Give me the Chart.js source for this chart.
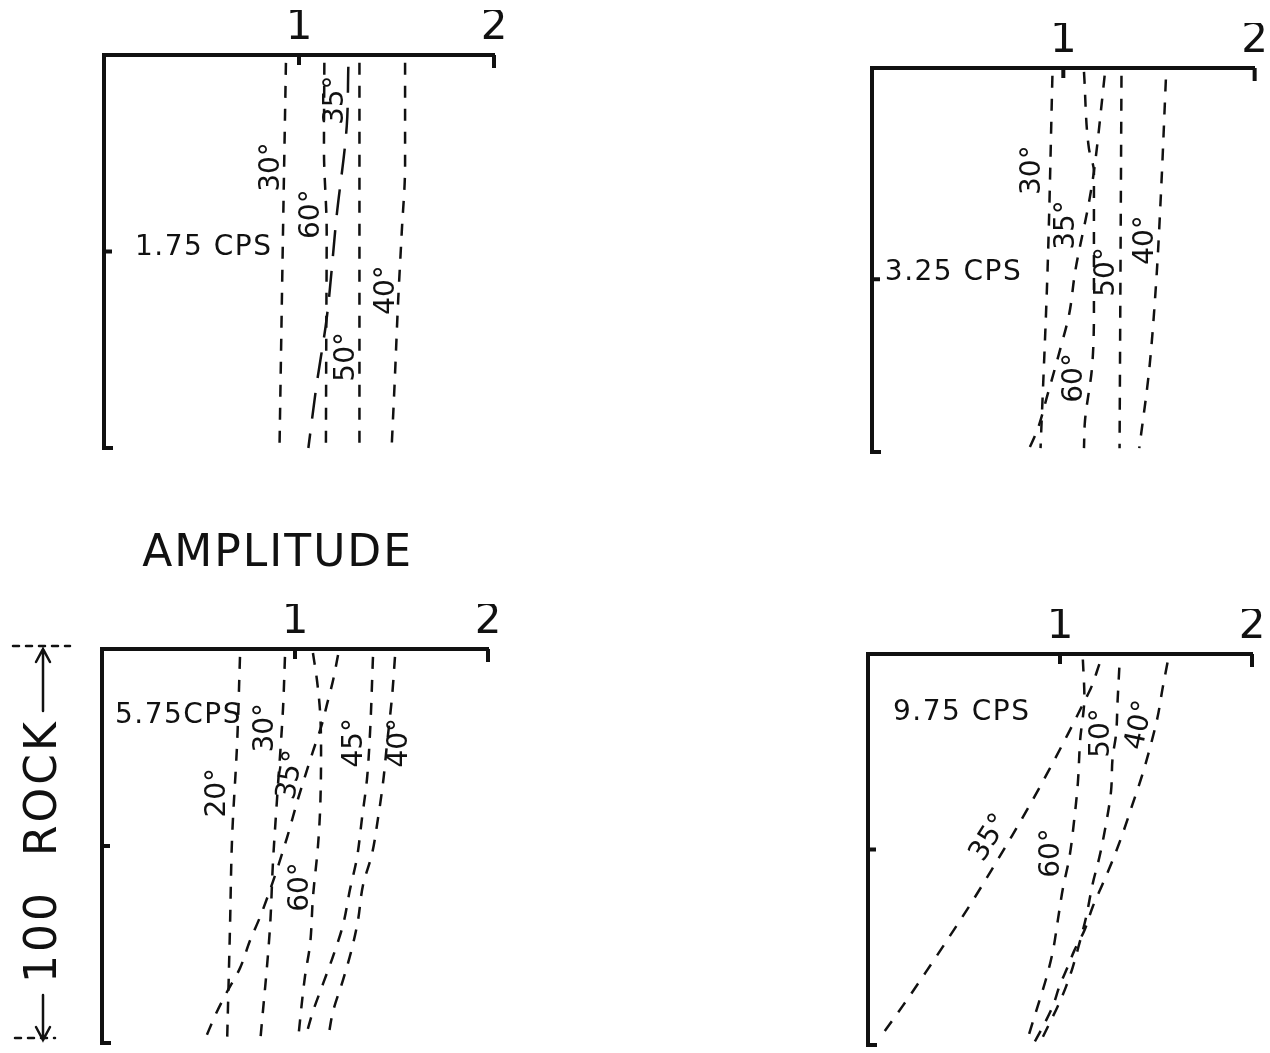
<!DOCTYPE html>
<html lang="en">
<head>
<meta charset="utf-8">
<title>Amplitude versus depth in rock</title>
<script src="https://cdn.jsdelivr.net/npm/chart.js@4.4.1/dist/chart.umd.min.js"></script>
<style>
  html, body { margin: 0; padding: 0; background: #fff; }
  body { position: relative; width: 1270px; height: 1053px; overflow: hidden; }
  canvas { position: absolute; }
</style>
</head>
<body>
<canvas id="c175"></canvas>
<canvas id="c325"></canvas>
<canvas id="c575"></canvas>
<canvas id="c975"></canvas>
<script>
// ---- data -------------------------------------------------------------
// Amplitude ticks along the top of every panel
const amplitudeTicks = [1, 2];
// Frequency of each panel
const frequencies = ['1.75 CPS', '3.25 CPS', '5.75CPS', '9.75 CPS'];
// Unlabelled depth tick on the left axis of each panel
const depthMidTicks = [50, 55, 50, 50];
// Total rock thickness spanned by the depth axis
const rockThickness = '100';

// Curves: [amplitude, depth] pairs, depth counted down from the surface (0-100)
// 1.75 cps
const f175_30 = [[0.933, 2], [0.918, 45], [0.900, 100]];
const f175_60 = [[1.130, 2], [1.128, 24], [1.142, 45], [1.140, 70], [1.138, 100]];
const f175_35 = [[1.253, 3], [1.245, 18], [1.193, 41], [1.142, 67], [1.090, 84], [1.048, 100]];
const f175_50 = [[1.310, 2], [1.310, 100]];
const f175_40 = [[1.544, 2], [1.544, 28], [1.527, 45], [1.509, 62], [1.490, 84], [1.475, 100]];

// 3.25 cps
const f325_30 = [[0.943, 2], [0.918, 52], [0.881, 99]];
const f325_60 = [[1.108, 1], [1.134, 21], [1.160, 27], [1.160, 64], [1.150, 78], [1.113, 92], [1.108, 99]];
const f325_35 = [[1.216, 2], [1.175, 21], [1.160, 27], [1.134, 35], [1.062, 53], [1.031, 64], [0.985, 73], [0.918, 85], [0.866, 94], [0.814, 100]];
const f325_50 = [[1.304, 2], [1.294, 99]];
const f325_40 = [[1.536, 3], [1.510, 33], [1.485, 56], [1.448, 79], [1.397, 99]];

// 5.75 cps
const f575_20 = [[0.715, 2], [0.700, 24], [0.674, 48], [0.663, 71], [0.648, 100]];
const f575_30 = [[0.948, 2], [0.938, 15], [0.907, 38], [0.886, 54], [0.870, 71], [0.819, 100]];
const f575_60 = [[1.093, 1], [1.114, 8], [1.130, 16], [1.135, 26], [1.130, 41], [1.119, 50], [1.093, 63], [1.078, 75], [1.052, 83], [1.016, 99]];
const f575_35 = [[1.223, 1.5], [1.197, 8], [1.166, 14], [1.140, 19], [1.093, 26], [1.016, 38], [0.958, 48], [0.886, 59], [0.819, 68], [0.767, 74], [0.715, 81], [0.648, 87], [0.596, 92], [0.534, 99]];
const f575_45 = [[1.404, 2], [1.389, 21], [1.373, 33], [1.347, 43], [1.321, 53], [1.285, 61], [1.249, 70], [1.197, 78], [1.145, 85], [1.093, 92], [1.052, 99]];
const f575_40 = [[1.518, 2], [1.503, 12], [1.477, 24], [1.456, 34], [1.430, 43], [1.399, 52], [1.352, 60], [1.326, 69], [1.295, 76], [1.249, 84], [1.197, 92], [1.171, 99]];

// 9.75 cps
const f975_60 = [[1.119, 1.4], [1.127, 11], [1.105, 22], [1.093, 33], [1.075, 42], [1.049, 52], [1.015, 60], [0.989, 68], [0.963, 76], [0.928, 83], [0.894, 88.5], [0.859, 94], [0.824, 99.6]];
const f975_35 = [[1.205, 2.6], [1.162, 8.6], [1.130, 11.8], [1.041, 20.5], [0.948, 29.2], [0.851, 37.9], [0.750, 46.5], [0.644, 55.2], [0.535, 63.9], [0.420, 72.6], [0.302, 81.3], [0.181, 90], [0.054, 98.7]];
const f975_50 = [[1.309, 3.5], [1.300, 12], [1.292, 20.5], [1.274, 26.5], [1.266, 35], [1.240, 43.4], [1.205, 52], [1.170, 58.8], [1.136, 67.3], [1.101, 74], [1.067, 80], [1.032, 85], [0.989, 90], [0.945, 94.5], [0.894, 99.6]];
const f975_40 = [[1.560, 2.2], [1.535, 8.6], [1.508, 16.2], [1.474, 23], [1.430, 30.7], [1.378, 38.4], [1.326, 46], [1.274, 52.8], [1.222, 58.8], [1.170, 64.7], [1.127, 70.7], [1.075, 75.8], [1.040, 80], [0.997, 85], [0.963, 90], [0.911, 95.3], [0.859, 100]];

// ---- layout -----------------------------------------------------------
const INK = '#111';
const FONT = '"DejaVu Sans", "Liberation Sans", sans-serif';
const AXIS_H = 45;
const SHORT_DASH = [12, 11];
const LONG_DASH = [26, 15];

// canvas frame and plot area in page pixels
const frames = [
  { x: 0,   y: 0,   w: 635, h: 520, area: { l: 104, t: 55,  r: 494,  b: 448 } },
  { x: 635, y: 0,   w: 635, h: 520, area: { l: 872, t: 68,  r: 1257, b: 452 } },
  { x: 0,   y: 520, w: 635, h: 533, area: { l: 102, t: 649, r: 488,  b: 1043 } },
  { x: 635, y: 520, w: 635, h: 533, area: { l: 868, t: 654, r: 1252, b: 1045 } }
];

// where the frequency caption sits: [amplitude, depth]
const freqSpots = [[0.159, 49.1], [0.067, 53.4], [0.067, 17], [0.13, 15.1]];

// where each angle is written: [amplitude, depth, rotation in degrees]
const labelSpots = [
  { '30°': [0.862, 28.5, -90], '60°': [1.067, 40.5, -90], '35°': [1.19, 11.5, -90], '40°': [1.45, 59.8, -90], '50°': [1.246, 76.8, -90] },
  { '30°': [0.84, 26.6, -90], '35°': [1.02, 40.9, -90], '50°': [1.227, 53.1, -90], '40°': [1.433, 44.8, -90], '60°': [1.062, 80.7, -90] },
  { '20°': [0.60, 36.5, -90], '30°': [0.85, 20, -90], '35°': [0.98, 32, -80], '60°': [1.03, 60.4, -90], '45°': [1.31, 23.8, -90], '40°': [1.544, 23.8, -90] },
  { '50°': [1.219, 20.2, -90], '40°': [1.417, 18.2, -78], '60°': [0.958, 50.9, -90], '35°': [0.635, 47, -58] }
];

const panelSeries = [
  [['30°', f175_30], ['60°', f175_60], ['35°', f175_35, LONG_DASH], ['50°', f175_50], ['40°', f175_40]],
  [['30°', f325_30], ['60°', f325_60], ['35°', f325_35], ['50°', f325_50], ['40°', f325_40]],
  [['20°', f575_20], ['30°', f575_30], ['60°', f575_60], ['35°', f575_35], ['45°', f575_45], ['40°', f575_40]],
  [['60°', f975_60], ['35°', f975_35], ['50°', f975_50], ['40°', f975_40]]
];

// ---- drawing helpers ---------------------------------------------------
function toPoints(pairs) { return pairs.map(([x, y]) => ({ x, y })); }

function drawText(ctx, text, x, y, deg, size, align, spacing) {
  ctx.save();
  ctx.translate(x, y);
  ctx.rotate(deg * Math.PI / 180);
  ctx.font = size + 'px ' + FONT;
  ctx.letterSpacing = (spacing || 0) + 'px';
  ctx.textAlign = align || 'center';
  ctx.textBaseline = 'middle';
  ctx.fillText(text, 0, 0);
  ctx.restore();
}

// amplitude axis title and the rock-thickness bracket beside the lower-left panel
function drawSideNotes(chart) {
  const { ctx, chartArea: a, scales: { x, y } } = chart;
  const top = y.getPixelForValue(0), bot = y.getPixelForValue(100);
  ctx.save();
  ctx.fillStyle = INK; ctx.strokeStyle = INK;
  drawText(ctx, 'AMPLITUDE', x.getPixelForValue(0.91), a.top - 94, 0, 44, 'center', 2);

  const sx = a.left - 59;
  ctx.lineWidth = 2.5; ctx.lineCap = 'round';
  ctx.setLineDash([6, 7]);
  ctx.beginPath();
  ctx.moveTo(a.left - 89, top - 3); ctx.lineTo(a.left - 32, top - 3);
  ctx.moveTo(a.left - 87, bot - 5); ctx.lineTo(a.left - 47, bot - 5);
  ctx.stroke();
  ctx.setLineDash([]);
  ctx.beginPath();
  ctx.moveTo(sx, top); ctx.lineTo(sx, top + 62);
  ctx.moveTo(sx - 7, top + 13); ctx.lineTo(sx, top); ctx.lineTo(sx + 7, top + 13);
  ctx.moveTo(sx, bot - 3); ctx.lineTo(sx, bot - 48);
  ctx.moveTo(sx - 7, bot - 16); ctx.lineTo(sx, bot - 3); ctx.lineTo(sx + 7, bot - 16);
  ctx.stroke();
  drawText(ctx, rockThickness + '  ROCK', a.left - 57, y.getPixelForValue(51.3), -90, 44, 'center', 3);
  ctx.restore();
}

function decorPlugin(i) {
  return {
    id: 'panelDecor' + i,
    afterDraw(chart) {
      const { ctx, chartArea: a, scales: { x, y } } = chart;
      ctx.save();
      ctx.strokeStyle = INK; ctx.fillStyle = INK;
      ctx.lineWidth = 4; ctx.lineCap = 'butt';
      ctx.beginPath();
      // inward tick marks on the amplitude axis
      const p1 = x.getPixelForValue(amplitudeTicks[0]);
      const p2 = x.getPixelForValue(amplitudeTicks[1]);
      ctx.moveTo(p1, a.top); ctx.lineTo(p1, a.top + 10);
      ctx.moveTo(p2, a.top); ctx.lineTo(p2, a.top + 13);
      // depth ticks
      const ym = y.getPixelForValue(depthMidTicks[i]);
      const yb = y.getPixelForValue(100);
      ctx.moveTo(a.left, ym); ctx.lineTo(a.left + 8, ym);
      ctx.moveTo(a.left - 2, yb); ctx.lineTo(a.left + 9, yb);
      ctx.stroke();

      // frequency caption
      const fs = freqSpots[i];
      drawText(ctx, frequencies[i], x.getPixelForValue(fs[0]), y.getPixelForValue(fs[1]), 0, 28, 'left', 1.5);

      // angle labels
      const spots = labelSpots[i];
      for (const name of Object.keys(spots)) {
        const [ax, dy, deg] = spots[name];
        drawText(ctx, name, x.getPixelForValue(ax), y.getPixelForValue(dy), deg, 28, 'center', 0);
      }
      ctx.restore();
      if (i === 2) drawSideNotes(chart);
    }
  };
}

function buildPanel(canvasId, i) {
  const f = frames[i];
  const canvas = document.getElementById(canvasId);
  canvas.width = f.w; canvas.height = f.h;
  canvas.style.left = f.x + 'px'; canvas.style.top = f.y + 'px';
  canvas.style.width = f.w + 'px'; canvas.style.height = f.h + 'px';

  const padding = {
    left: f.area.l - f.x,
    top: f.area.t - f.y - AXIS_H,
    right: f.x + f.w - f.area.r,
    bottom: f.y + f.h - f.area.b
  };

  const datasets = panelSeries[i].map(([name, pts, dash]) => ({
    label: name,
    data: toPoints(pts),
    fill: false,
    borderColor: INK,
    borderWidth: 2.5,
    borderDash: dash || SHORT_DASH,
    borderCapStyle: 'butt',
    pointRadius: 0,
    pointHoverRadius: 0,
    cubicInterpolationMode: 'monotone',
    clip: 8
  }));

  return new Chart(canvas, {
    type: 'line',
    data: { datasets },
    plugins: [decorPlugin(i)],
    options: {
      indexAxis: 'y',
      responsive: false,
      animation: false,
      events: [],
      layout: { padding },
      plugins: { legend: { display: false }, tooltip: { enabled: false } },
      scales: {
        x: {
          type: 'linear',
          position: 'top',
          min: 0, max: 2,
          afterBuildTicks: s => { s.ticks = amplitudeTicks.map(v => ({ value: v })); },
          afterFit: s => { s.height = AXIS_H; },
          grid: { display: false, drawTicks: false },
          border: { display: true, color: INK, width: 4 },
          ticks: { color: INK, font: { family: FONT, size: 42 }, padding: 2, maxRotation: 0, autoSkip: false }
        },
        y: {
          type: 'linear',
          position: 'left',
          min: 0, max: 100,
          reverse: true,
          afterFit: s => { s.width = 0; },
          grid: { display: false, drawTicks: false },
          border: { display: true, color: INK, width: 4 },
          ticks: { display: false }
        }
      }
    }
  });
}

buildPanel('c175', 0);
buildPanel('c325', 1);
buildPanel('c575', 2);
buildPanel('c975', 3);
</script>
</body>
</html>
